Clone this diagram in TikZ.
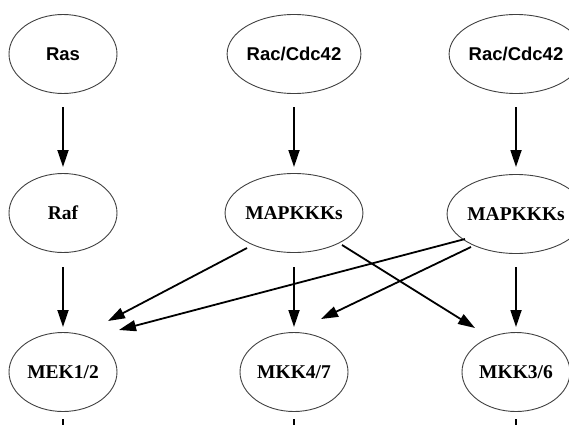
\documentclass[tikz,border=0pt]{standalone}
\usepackage{fontspec}
\setmainfont{Liberation Serif}
\setsansfont{Liberation Sans}
\usetikzlibrary{shapes.geometric,arrows.meta,calc}
\tikzset{
  oval/.style={ellipse, draw=black!75, line width=0.9pt, minimum width=108pt, minimum height=79pt, inner sep=0pt},
  topoval/.style={oval, font=\sffamily\bfseries\fontsize{18.5}{18.5}\selectfont},
  lowoval/.style={oval, font=\rmfamily\bfseries\fontsize{19.5}{19.5}\selectfont},
  arr/.style={-{Triangle[length=17pt,width=11pt]}, line width=1.8pt},
  tick/.style={line width=1.8pt}
}
\begin{document}
\begin{tikzpicture}[x=1pt,y=-1pt]
\useasboundingbox (0,0) rectangle (569,425);
% top row
\node[topoval] (ras) at (63,54) {Ras};
\node[topoval] (racm) at (294,54) {Rac/Cdc42};
\node[topoval] (racr) at (516,54) {Rac/Cdc42};
% middle row
\node[lowoval] (raf) at (63,213) {Raf};
\node[lowoval] (mapm) at (294,213) {MAPKKKs};
\node[lowoval] (mapr) at (516,214) {MAPKKKs};
% bottom row
\node[lowoval] (mek) at (63,372) {MEK1/2};
\node[lowoval] (mkkb) at (294,372) {MKK4/7};
\node[lowoval] (mkkc) at (516,372) {MKK3/6};
% bottom edge points
\coordinate (ea) at (63,425);
\coordinate (eb) at (294,425);
\coordinate (ec) at (516,425);
% vertical arrows
\draw[arr] ($(ras)+(0,53)$) -- ($(raf)+(0,-46)$);
\draw[arr] ($(racm)+(0,53)$) -- ($(mapm)+(0,-46)$);
\draw[arr] ($(racr)+(0,53)$) -- ($(mapr)+(0,-47)$);
\draw[arr] ($(raf)+(0,54)$) -- ($(mek)+(0,-45)$);
\draw[arr] ($(mapm)+(0,54)$) -- ($(mkkb)+(0,-45)$);
\draw[arr] ($(mapr)+(0,53)$) -- ($(mkkc)+(0,-45)$);
% diagonal arrows
\draw[arr] ($(mapm)+(-47,35)$) -- ($(mek)+(45,-51)$);
\draw[arr] ($(mapr)+(-51,25)$) -- ($(mek)+(56,-42)$);
\draw[arr] ($(mapr)+(-45,33)$) -- ($(mkkb)+(27,-53)$);
\draw[arr] ($(mapm)+(48,32)$) -- ($(mkkc)+(-41,-44)$);
% cut-off lines at bottom
\draw[tick] ($(mek)+(0,47)$) -- (ea);
\draw[tick] ($(mkkb)+(0,47)$) -- (eb);
\draw[tick] ($(mkkc)+(0,47)$) -- (ec);
\end{tikzpicture}
\end{document}
